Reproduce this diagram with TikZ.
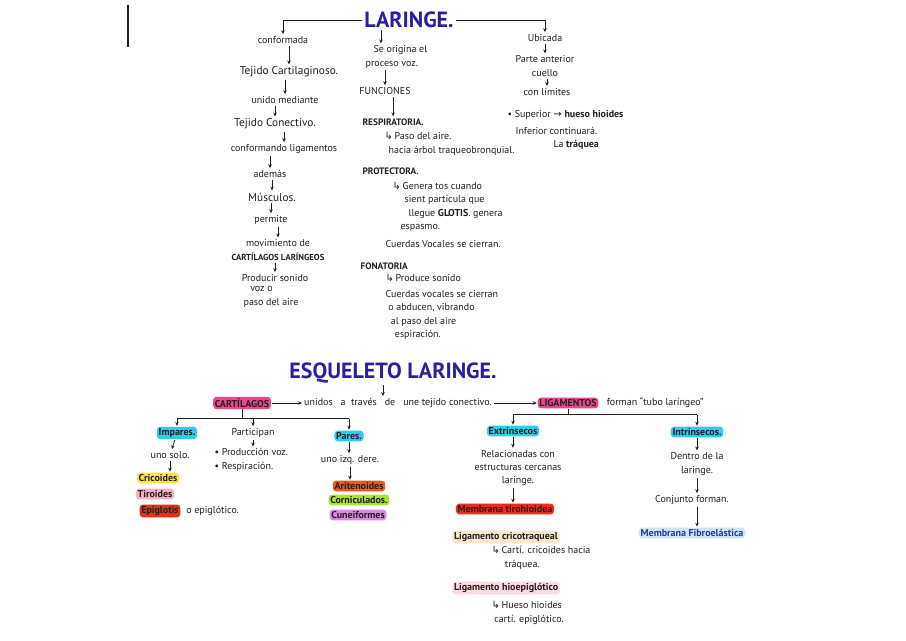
\documentclass[tikz,border=0pt]{standalone}
\usepackage{fontspec}
\setmainfont{PT Sans}
\newfontfamily\symb{DejaVu Sans}
\usetikzlibrary{arrows.meta,positioning}

\definecolor{ink}{RGB}{35,32,30}
\definecolor{titleblue}{RGB}{42,32,158}
\definecolor{hlpink}{RGB}{238,70,140}
\definecolor{hlcyan}{RGB}{45,205,238}
\definecolor{hlyellow}{RGB}{255,228,60}
\definecolor{hlrose}{RGB}{250,175,195}
\definecolor{hlred}{RGB}{235,45,30}
\definecolor{hlorange}{RGB}{242,85,35}
\definecolor{hlgreen}{RGB}{172,230,45}
\definecolor{hlviolet}{RGB}{222,135,232}
\definecolor{hlbeige}{RGB}{250,232,205}
\definecolor{hllight}{RGB}{252,218,224}
\definecolor{hlblue}{RGB}{205,228,246}
\definecolor{fibblue}{RGB}{40,62,140}

\tikzset{
  txt/.style={font=\fontsize{7.5}{10}\selectfont, text=ink, inner sep=1pt, align=center},
  lft/.style={txt, align=left, anchor=west},
  big/.style={txt, font=\fontsize{8.5}{10}\selectfont},
  caps/.style={lft, font=\fontsize{7}{9}\selectfont\bfseries},
  ttl/.style={font=\fontsize{16.5}{18}\selectfont\bfseries, text=titleblue, inner sep=1pt},
  hl/.style={txt, fill=#1, rounded corners=2.5pt, inner sep=1.3pt, font=\fontsize{7.5}{9}\selectfont\bfseries},
  arr/.style={draw=ink, line width=0.55pt, -{Stealth[length=3pt,width=2.6pt]}, shorten >=0.5pt, shorten <=0.5pt},
  bar/.style={draw=ink, line width=0.6pt},
}
\newcommand{\hookarr}{{\symb ↳}\,}

\begin{document}
\begin{tikzpicture}[x=0.75pt, y=-0.75pt]
\fill[white] (0,0) rectangle (906,640);
\draw[ink, line width=1.2pt] (128,5) -- (128,47);

% laringe
\node[ttl] (lar) at (409,20) {LARINGE.};

\node[txt] (conf) at (283,40) {conformada};
\node[big] (tcart) at (289,72) {Tejido Cartilaginoso.};
\node[txt] (unido) at (285,100) {unido mediante};
\node[big] (tcon) at (275,124) {Tejido Conectivo.};
\node[txt] (ligm) at (284,149) {conformando ligamentos};
\node[txt] (ademas) at (270,174) {además};
\node[big] (musc) at (272,197) {Músculos.};
\node[txt] (perm) at (271,220) {permite};
\node[txt] (movim) at (278,250) {movimiento de\\\textbf{\fontsize{6.5}{8}\selectfont CARTÍLAGOS LARÍNGEOS}};
\node[txt] (prod) at (275,278) {Producir sonido};
\node[lft] (voz) at (242,297) {\hspace{5pt}voz o\\paso del aire};

\node[lft] (orig) at (364,57) {\hspace{6pt}Se origina el\\proceso voz.};
\node[txt] (func) at (385,91) {FUNCIONES};
\node[caps] (resp) at (361,122) {RESPIRATORIA.};
\node[lft] (respt) at (383,144) {\hookarr Paso del aire.\\\hspace{3pt}hacia árbol traqueobronquial.};
\node[caps] (prot) at (361,171) {PROTECTORA.};
\node[lft] (prott) at (391,207) {\hookarr Genera tos cuando\\\hspace{9pt}sient partícula que\\\hspace{12pt}llegue \textbf{GLOTIS}. genera\\\hspace{6pt}espasmo.};
\node[lft] (cierr) at (384,244) {Cuerdas Vocales se cierran.};
\node[caps] (fona) at (359,266) {FONATORIA};
\node[lft] (fonat) at (384,278) {\hookarr Produce sonido};
\node[lft] (fonav) at (384,315) {Cuerdas vocales se cierran\\\hspace{2pt}o abducen, vibrando\\\hspace{4pt}al paso del aire\\\hspace{7pt}espiración.};

\node[txt] (ubic) at (545,38) {Ubicada};
\node[txt] (parte) at (545,66) {Parte anterior\\cuello};
\node[txt] (limit) at (547,92) {con límites};
\node[lft] (sup) at (506,115) {• Superior {\symb →} \textbf{hueso hioides}};
\node[lft] (inf) at (514,131) {Inferior continuará.};
\node[lft] (traq) at (552,145) {La \textbf{tráquea}};

\draw[arr] (lar.west) -| (conf.north);
\draw[arr] (lar.east) -| (ubic.north);
\draw[arr] ([xshift=-21pt]lar.south) -- ([xshift=-21pt]lar.south |- orig.north);
\foreach \a/\b in {conf/tcart, tcart/unido, unido/tcon, tcon/ligm, ligm/ademas, ademas/musc,
                   musc/perm, perm/movim, movim/prod, orig/func, func/resp, ubic/parte, parte/limit}
  \draw[arr] (\b.north |- \a.south) -- (\b.north);

% esqueleto
\node[ttl] (esq) at (393,373) {ESQUELETO LARINGE.};
\node[hl=hlpink] (cart) at (242,403) {CARTÍLAGOS};
\node[txt] (unidos) at (398,403) {unidos \ \ a \ través \ \ de \ \ une tejido conectivo.};
\node[hl=hlpink] (ligam) at (568,403) {LIGAMENTOS};
\node[txt, right=5pt of ligam] (forman) {forman “tubo laríngeo”};
\draw[arr] (cart) -- (unidos);
\draw[arr] (unidos) -- (ligam);
\draw[arr] ([xshift=-7.5pt]esq.south) -- ([xshift=-7.5pt]esq.south |- unidos.north);

\node[hl=hlcyan] (impar) at (177,433) {Impares.};
\node[txt] (partic) at (253,433) {Participan};
\node[hl=hlcyan] (pares) at (349,436) {Pares.};
\coordinate (cb) at (242,418);
\draw[bar] (cart.south) -- (cart.south |- cb);
\draw[bar] (impar.north |- cb) -- (pares.north |- cb);
\foreach \n in {impar, partic, pares}
  \draw[arr] (\n.north |- cb) -- (\n.north);

\node[txt] (solo) at (170,455) {uno solo.};
\node[hl=hlyellow] (cric) at (158,478) {Cricoides};
\node[hl=hlrose] (tiro) at (155,494) {Tiroides};
\node[hl=hlred] (epig) at (160,511) {Epiglotis};
\node[txt, right=3pt of epig] (oepig) {o epiglótico.};
\node[lft] (funl) at (213,460) {• Producción voz.\\• Respiración.};
\node[txt] (izq) at (350,460) {uno izq. dere.};
\node[hl=hlorange] (arit) at (359,486) {Aritenoides};
\node[hl=hlgreen] (corn) at (359,500) {Corniculados.};
\node[hl=hlviolet] (cune) at (358,515) {Cuneiformes};
\draw[arr] (impar) -- (solo);
\draw[arr] (solo.south) -- (solo.south |- cric.north);
\draw[arr] (partic.south) -- (partic.south |- funl.north);
\draw[arr] (pares.south) -- (pares.south |- izq.north);
\draw[arr] (izq.south) -- (izq.south |- arit.north);

\node[hl=hlcyan] (extr) at (513,431) {Extrínsecos};
\node[hl=hlcyan] (intr) at (697,432) {Intrínsecos.};
\coordinate (lb) at (567,414);
\draw[bar] (ligam.south) -- (ligam.south |- lb);
\draw[bar] (extr.north |- lb) -- (intr.north |- lb);
\foreach \n in {extr, intr}
  \draw[arr] (\n.north |- lb) -- (\n.north);

\node[txt] (relac) at (518,468) {Relacionadas con\\estructuras cercanas\\laringe.};
\node[hl=hlred] (memtir) at (505,509) {Membrana tirohioidea};
\node[hl=hlbeige, anchor=west] (ligcri) at (452,537) {Ligamento cricotraqueal};
\node[lft] (cricot) at (490,558) {\hookarr Cartí. cricoides hacia\\\hspace{10pt}tráquea.};
\node[hl=hllight, anchor=west] (lighio) at (452,588) {Ligamento hioepiglótico};
\node[lft] (hioep) at (490,613) {\hookarr Hueso hioides\\\hspace{2pt}cartí. epiglótico.};
\draw[arr] (extr) -- (extr |- relac.north);
\draw[arr] (relac.south -| extr) -- (memtir.north -| extr);

\node[txt] (dentro) at (697,464) {Dentro de la\\laringe.};
\node[txt] (conj) at (692,500) {Conjunto forman.};
\node[hl=hlblue, text=fibblue] (memfib) at (692,533) {Membrana Fibroelástica};
\draw[arr] (intr) -- (intr |- dentro.north);
\draw[arr] (dentro.south -| intr) -- (conj.north -| intr);
\draw[arr] (conj.south -| intr) -- (memfib.north -| intr);
\end{tikzpicture}
\end{document}
